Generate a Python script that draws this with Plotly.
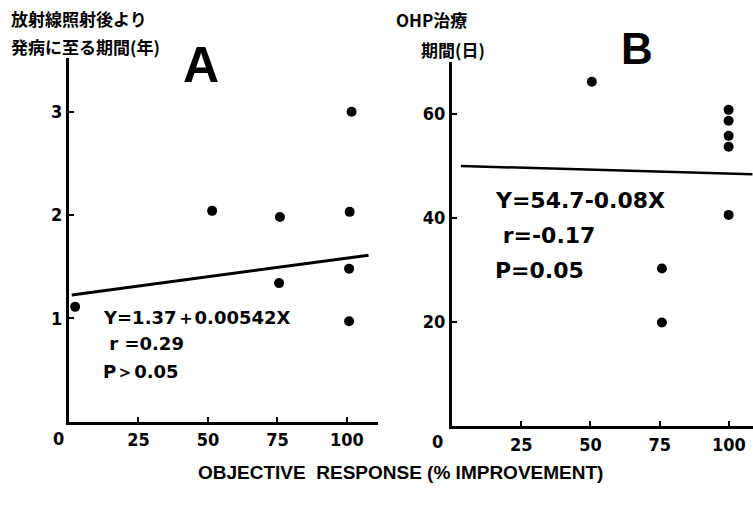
import plotly.graph_objects as go

# ---- data ----
a_x = [2.2, 51.5, 75.9, 75.6, 101.7, 101.0, 100.8, 100.8]
a_y = [1.11, 2.04, 1.98, 1.34, 3.00, 2.03, 1.48, 0.97]
a_fit_x = [1.0, 107.8]
a_fit_y = [1.225, 1.61]

b_x = [50.5, 99.9, 99.9, 99.9, 99.9, 99.9, 75.8, 75.8]
b_y = [66.2, 60.8, 58.7, 55.8, 53.7, 40.6, 30.3, 19.9]
b_fit_x = [3.2, 108.5]
b_fit_y = [50.0, 48.4]

x_ticks = [25, 50, 75, 100]
a_y_ticks = [1, 2, 3]
b_y_ticks = [20, 40, 60]

a_title = ["放射線照射後より", "発病に至る期間(年)"]
b_title = ["OHP治療", "期間(日)"]
a_stats = ["Y=1.37＋0.00542X", " r =0.29", "P＞0.05"]
b_stats = ["Y=54.7-0.08X", " r=-0.17", "P=0.05"]
x_title = "OBJECTIVE  RESPONSE (% IMPROVEMENT)"

W, H = 753, 506
def px(x): return x / W
def py(y): return 1 - y / H

TICKFAM = "Liberation Sans Narrow, DejaVu Sans Condensed, Arial"
TICKFONT = dict(family=TICKFAM, size=18, color="black", weight="bold")
EQFONT = "DejaVu Sans, Arial"
CJK = "Noto Sans CJK JP"

fig = go.Figure()
fig.add_trace(go.Scatter(x=a_x, y=a_y, mode="markers", marker=dict(color="black", size=10),
                         xaxis="x", yaxis="y", showlegend=False))
fig.add_trace(go.Scatter(x=a_fit_x, y=a_fit_y, mode="lines", line=dict(color="black", width=3),
                         xaxis="x", yaxis="y", showlegend=False))
fig.add_trace(go.Scatter(x=b_x, y=b_y, mode="markers", marker=dict(color="black", size=10),
                         xaxis="x2", yaxis="y2", showlegend=False))
fig.add_trace(go.Scatter(x=b_fit_x, y=b_fit_y, mode="lines", line=dict(color="black", width=2.5),
                         xaxis="x2", yaxis="y2", showlegend=False))

axis_common = dict(showline=True, linecolor="black", linewidth=3, showgrid=False, zeroline=False,
                   ticks="inside", tickcolor="black", tickwidth=2, ticklen=5, tickfont=TICKFONT,
                   mirror=False)

fig.update_layout(
    width=W, height=H, margin=dict(l=0, r=0, t=0, b=0),
    paper_bgcolor="white", plot_bgcolor="white",
    xaxis=dict(domain=[px(69), px(378)], range=[0, 111.2], tickvals=x_ticks, anchor="y", **axis_common),
    yaxis=dict(domain=[py(421.5), py(58)], range=[0, 3.52], tickvals=a_y_ticks, anchor="x", **axis_common),
    xaxis2=dict(domain=[px(452), 1.0], range=[0, 108.7], tickvals=x_ticks, anchor="y2", **axis_common),
    yaxis2=dict(domain=[py(426), py(62)], range=[0, 70], tickvals=b_y_ticks, anchor="x2", **axis_common),
)

ann = []
def text(t, x, y, size, family, xanchor="left"):
    ann.append(dict(text=t, x=px(x), y=py(y), xref="paper", yref="paper", xanchor=xanchor,
                    yanchor="middle", showarrow=False, font=dict(size=size, family=family, color="black")))

text("<b>%s</b>" % a_title[0], 9, 18, 17, CJK)
text("<b>%s</b>" % a_title[1], 9, 46, 17, CJK)
text("<b>%s</b>" % b_title[0], 394, 20, 17, CJK)
text("<b>%s</b>" % b_title[1], 419, 50, 17, CJK)
text("<b>A</b>", 201, 65, 50, "Liberation Sans, Arial", "center")
text("<b>B</b>", 637, 48, 44, "Liberation Sans, Arial", "center")
for t, yy in zip(a_stats, [317, 343, 371]):
    text("<b>%s</b>" % t, 101, yy, 18, EQFONT)
for t, yy in zip(b_stats, [201, 235, 270]):
    text("<b>%s</b>" % t, 493, yy, 22, EQFONT)
text("<b>0</b>", 58, 438, 18, TICKFAM, "center")
text("<b>0</b>", 437, 441, 18, TICKFAM, "center")
text("<b>%s</b>" % x_title, 400, 472, 19, "Liberation Sans, Arial", "center")

fig.update_layout(annotations=ann)
fig.write_html("out.html", config={"displayModeBar": False},
               post_script="document.body.style.margin='0';")
